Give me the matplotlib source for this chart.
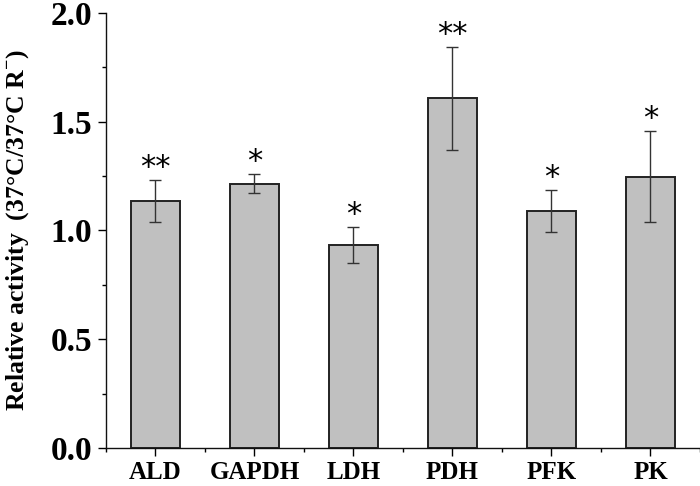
import matplotlib
matplotlib.use("Agg")
import matplotlib.pyplot as plt
from matplotlib.ticker import MultipleLocator, FixedLocator, FormatStrFormatter

plt.rcParams["font.family"] = "Liberation Serif"
plt.rcParams["font.weight"] = "bold"
plt.rcParams["mathtext.fontset"] = "custom"
plt.rcParams["mathtext.rm"] = "Liberation Serif:bold"
plt.rcParams["mathtext.bf"] = "Liberation Serif:bold"

enzymes = ["ALD", "GAPDH", "LDH", "PDH", "PFK", "PK"]
activity = [1.135, 1.215, 0.932, 1.608, 1.090, 1.247]
errors = [0.097, 0.043, 0.083, 0.236, 0.095, 0.210]
stars = ["**", "*", "*", "**", "*", "*"]

fig = plt.figure(figsize=(7, 4.86), dpi=100)
ax = fig.add_axes([0.1514, 0.0782, 0.8486, 0.8951])

x = list(range(len(enzymes)))
ax.bar(x, activity, width=0.5, color="#c0c0c0", edgecolor="#222222", linewidth=1.4, zorder=2)
ax.errorbar(x, activity, yerr=errors, fmt="none", ecolor="#333333", elinewidth=1.0,
            capsize=4, capthick=1.0, zorder=3)

for xi, v, e, s in zip(x, activity, errors, stars):
    ax.annotate(s, (xi, v + e), xytext=(0, 9), textcoords="offset points",
                ha="center", va="center", fontsize=22, fontweight="normal",
                family="DejaVu Sans")

ax.set_xlim(-0.5, 5.5)
ax.set_ylim(0, 2.0)
ax.spines["top"].set_visible(False)
ax.spines["right"].set_visible(False)
for sp in ("left", "bottom"):
    ax.spines[sp].set_linewidth(1.0)
    ax.spines[sp].set_color("#111111")

ax.set_xticks(x)
ax.set_xticklabels(enzymes)
ax.xaxis.set_minor_locator(FixedLocator([i - 0.5 for i in range(len(enzymes) + 1)]))
ax.yaxis.set_major_locator(MultipleLocator(0.5))
ax.yaxis.set_minor_locator(MultipleLocator(0.25))
ax.yaxis.set_major_formatter(FormatStrFormatter("%.1f"))

ax.tick_params(axis="y", which="major", direction="out", length=6, width=1.0,
               labelsize=24, pad=4)
ax.tick_params(axis="y", which="minor", direction="out", length=3, width=1.0)
ax.tick_params(axis="x", which="major", direction="out", length=6, width=1.0,
               labelsize=18, pad=3.5)
ax.tick_params(axis="x", which="minor", direction="out", length=3, width=1.0)

ax.set_ylabel(r"Relative activity  (37°C/37°C R$^{-}$)", fontsize=18.5,
              fontweight="bold", labelpad=14)

fig.savefig("out.png", dpi=100)
